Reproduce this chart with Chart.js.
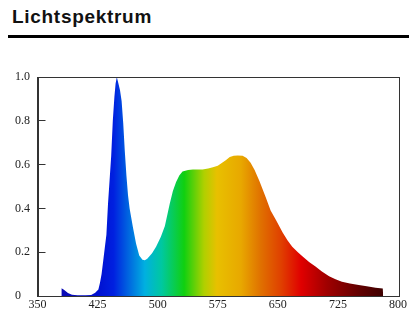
<!DOCTYPE html>
<html>
<head>
<meta charset="utf-8">
<script src="https://cdn.jsdelivr.net/npm/chart.js@4"></script>
<style>
    html, body { margin: 0; padding: 0; background: #fff; }
    body { width: 409px; height: 317px; position: relative; overflow: hidden; }
    .title {
        position: absolute; left: 12px; top: 6px;
        font-family: "Liberation Sans", Arial, sans-serif;
        font-weight: bold; font-size: 19px; letter-spacing: 0.7px; color: #111;
    }
    .rule { position: absolute; left: 8px; right: 0; top: 35px; height: 3px; background: #000; }
    .chart-box { position: absolute; left: 0; top: 60px; width: 409px; height: 257px; }
</style>
</head>
<body>
<div class="title">Lichtspektrum</div>
<div class="rule"></div>
<div class="chart-box"><canvas id="chartSpektrum"></canvas></div>

<script>
// Wellenlänge (nm) und relative Intensität
const wavelengths = [
    379.5, 380, 383, 388, 393, 400, 410, 417, 422, 426, 428, 430, 432, 434, 436, 438,
    440, 442, 444, 446, 447.5, 449, 451, 453, 455, 457, 459, 461, 463, 465, 469, 473,
    477, 481, 484, 487, 493, 498, 504, 509, 515, 519, 523, 527, 531, 538, 544, 550,
    556, 563, 569, 575, 580, 585, 590, 595, 600, 606, 611, 616, 621, 627, 635, 641,
    648, 656, 662, 668, 675, 681, 689, 697, 705, 714, 722, 730, 740, 751, 761, 772,
    781, 781.5
];
const intensity = [
    0, 0.035, 0.028, 0.014, 0.006, 0.003, 0.003, 0.005, 0.015, 0.03, 0.06, 0.10, 0.16, 0.22, 0.28, 0.42,
    0.53, 0.64, 0.80, 0.91, 0.97, 1.0, 0.97, 0.94, 0.89, 0.79, 0.66, 0.55, 0.46, 0.40, 0.316, 0.24,
    0.185, 0.165, 0.163, 0.17, 0.195, 0.225, 0.27, 0.32, 0.42, 0.48, 0.52, 0.55, 0.568, 0.575, 0.578, 0.578,
    0.578, 0.582, 0.588, 0.595, 0.607, 0.62, 0.635, 0.64, 0.642, 0.64, 0.63, 0.608, 0.575, 0.525, 0.45, 0.39,
    0.345, 0.29, 0.255, 0.225, 0.20, 0.18, 0.155, 0.135, 0.112, 0.09, 0.076, 0.065, 0.057, 0.05, 0.044, 0.038,
    0.034, 0
];
const xTicks = [350, 425, 500, 575, 650, 725, 800];
const yTicks = [0, 0.2, 0.4, 0.6, 0.8, 1.0];

// Farbverlauf entlang der Wellenlänge
const stopNm = [380, 425, 445, 462, 484, 505, 533, 558, 574, 604, 629, 654, 679, 711, 753, 780];
const stopColors = ['#0a0ab4', '#0010d0', '#0020e0', '#0060e0', '#00b0e0', '#00c8a0', '#10d010', '#b0d000',
                    '#e8c000', '#e8a800', '#e07000', '#e04000', '#e00000', '#a00000', '#600000', '#400000'];

const serif = { family: '"Liberation Serif", "Times New Roman", serif', size: 12 };

function spectrumFill(context) {
    const chart = context.chart;
    const x = chart.scales.x;
    if (!chart.chartArea || !x) return '#0000ff';
    const x0 = x.getPixelForValue(350), x1 = x.getPixelForValue(800);
    const g = chart.ctx.createLinearGradient(x0, 0, x1, 0);
    stopNm.forEach((nm, i) => g.addColorStop((nm - 350) / 450, stopColors[i]));
    return g;
}

// Rahmen rundherum
const boxPlugin = {
    id: 'box',
    afterDraw(chart) {
        const a = chart.chartArea, c = chart.ctx;
        c.save();
        c.strokeStyle = '#333';
        c.lineWidth = 1;
        c.strokeRect(Math.round(a.left) + 0.5, Math.round(a.top) + 0.5,
                     Math.round(a.right - a.left), Math.round(a.bottom - a.top));
        c.restore();
    }
};

new Chart(document.getElementById('chartSpektrum'), {
    type: 'line',
    data: {
        datasets: [{
            data: wavelengths.map((w, i) => ({ x: w, y: intensity[i] })),
            fill: 'origin',
            backgroundColor: spectrumFill,
            borderWidth: 0,
            pointRadius: 0,
            tension: 0
        }]
    },
    plugins: [boxPlugin],
    options: {
        responsive: true, maintainAspectRatio: false, animation: false,
        layout: { padding: { left: 15, top: 17, right: 8, bottom: 0 } },
        plugins: { legend: { display: false }, tooltip: { enabled: false } },
        scales: {
            x: {
                type: 'linear', min: 350, max: 800,
                afterBuildTicks: s => { s.ticks = xTicks.map(v => ({ value: v })); },
                afterFit: s => { s.height = 21; },
                ticks: { color: '#222', font: serif, padding: 2, maxRotation: 0, autoSkip: false },
                grid: { drawOnChartArea: false, drawTicks: false },
                border: { color: '#333' }
            },
            y: {
                min: 0, max: 1,
                afterBuildTicks: s => { s.ticks = yTicks.map(v => ({ value: v })); },
                afterFit: s => { s.width = 22.5; },
                ticks: {
                    color: '#222', font: serif, crossAlign: 'far', autoSkip: false,
                    callback: v => v === 0 ? '0' : v.toFixed(1)
                },
                grid: { drawOnChartArea: false, tickLength: -8, color: '#333' },
                border: { color: '#333' }
            }
        }
    }
});
</script>
</body>
</html>
